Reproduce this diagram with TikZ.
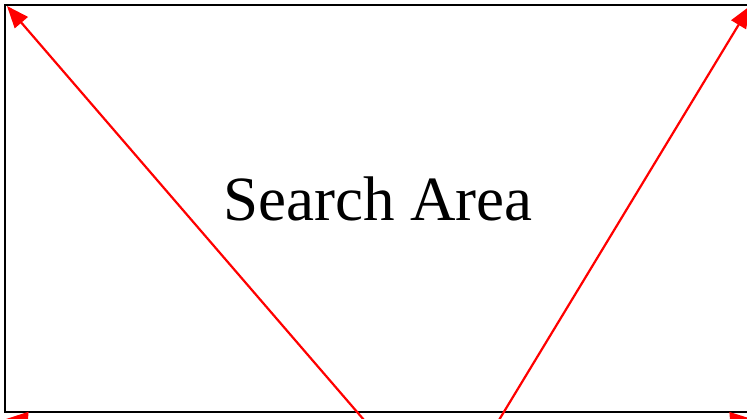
\documentclass[tikz,border=0pt]{standalone}
\usepackage{fontspec}
\setmainfont{Liberation Serif}
\usetikzlibrary{arrows.meta}
\begin{document}
\begin{tikzpicture}[x=1pt,y=-1pt,
  frame/.style={draw=black,line width=2.8pt},
  redarrow/.style={draw=red,line width=2.2pt,-{Triangle[length=22pt,width=17pt]}}]
\useasboundingbox (0,0) rectangle (747,418);
\draw[frame] (5,5) rectangle (760,412);
\node[font=\fontsize{63}{70}\selectfont] (label) at (378,199) {Search Area};
\coordinate (bl) at (364,420);
\coordinate (br) at (499,420);
\coordinate (tl) at (7,6);
\coordinate (tr) at (750,6);
\coordinate (hl) at (380,445);
\coordinate (hr) at (420,445);
\coordinate (cl) at (6,419);
\coordinate (cr) at (752,419);
\draw[redarrow] (bl) -- (tl);
\draw[redarrow] (br) -- (tr);
\draw[redarrow] (hl) -- (cl);
\draw[redarrow] (hr) -- (cr);
\end{tikzpicture}
\end{document}
